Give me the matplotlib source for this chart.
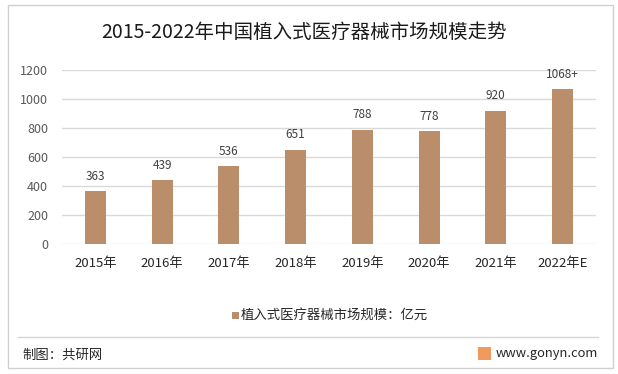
import matplotlib
matplotlib.use("Agg")
import matplotlib.pyplot as plt
from matplotlib.patches import Rectangle
from matplotlib.lines import Line2D

plt.rcParams['font.family'] = ['Noto Sans CJK SC', 'DejaVu Sans']

categories = ["2015年", "2016年", "2017年", "2018年", "2019年", "2020年", "2021年", "2022年E"]
values = [363, 439, 536, 651, 788, 778, 920, 1068]
value_labels = ["363", "439", "536", "651", "788", "778", "920", "1068+"]
y_ticks = [0, 200, 400, 600, 800, 1000, 1200]
title = "2015-2022年中国植入式医疗器械市场规模走势"
legend_label = "植入式医疗器械市场规模：亿元"

bar_color = "#BB8E6B"
W, H = 618, 374
fig = plt.figure(figsize=(W / 100, H / 100), dpi=100)
fig.patch.set_facecolor("white")

# outer border
fig.add_artist(Rectangle((7.5 / W, 1 - 368 / H), (613 - 7.5) / W, (368 - 5) / H,
                         transform=fig.transFigure, fill=False, edgecolor="#D0D0D0", lw=1))
# separator line
fig.add_artist(Line2D([18 / W, 598 / W], [1 - 337 / H, 1 - 337 / H],
                      transform=fig.transFigure, color="#D6D6D6", lw=1))

ax = fig.add_axes([62 / W, 1 - 244 / H, (596 - 62) / W, (244 - 70) / H])
x = range(len(categories))
ax.bar(x, values, width=0.315, color=bar_color, zorder=3, label=legend_label)
ax.set_xlim(-0.5, len(categories) - 0.5)
ax.set_ylim(0, 1200)
ax.set_yticks(y_ticks)
ax.set_yticklabels([str(v) for v in y_ticks], fontsize=9, color="#595959")
ax.set_xticks(list(x))
ax.set_xticklabels(categories, fontsize=9.5, color="#262626")
ax.tick_params(axis='both', length=0)
ax.tick_params(axis='y', pad=10)
ax.tick_params(axis='x', pad=9)
ax.grid(axis='y', color="#D9D9D9", lw=1, zorder=0)
for s in ax.spines.values():
    s.set_visible(False)

for xi, v, lab in zip(x, values, value_labels):
    ax.annotate(lab, (xi, v), xytext=(0, 6), textcoords="offset points",
                ha="center", va="bottom", fontsize=8.5, color="#404040")

fig.text(304 / W, 1 - 32 / H, title, ha="center", va="center", fontsize=14, color="#1a1a1a")

# legend
fig.add_artist(Rectangle((232 / W, 1 - 319 / H), 7 / W, 7 / H, transform=fig.transFigure,
                         facecolor=bar_color, edgecolor="none"))
fig.text(241 / W, 1 - 315 / H, legend_label, ha="left", va="center", fontsize=9.6, color="#262626")

# footer
fig.text(22 / W, 1 - 355 / H, "制图：共研网", ha="left", va="center", fontsize=9.6, color="#262626")
fig.add_artist(Rectangle((478 / W, 1 - 360 / H), 13 / W, 13 / H, transform=fig.transFigure,
                         facecolor="#F19A5E", edgecolor="none"))
fig.text(496 / W, 1 - 353 / H, "www.gonyn.com", ha="left", va="center", fontsize=9.3, color="#262626")

fig.savefig("out.png", dpi=100, facecolor="white")
